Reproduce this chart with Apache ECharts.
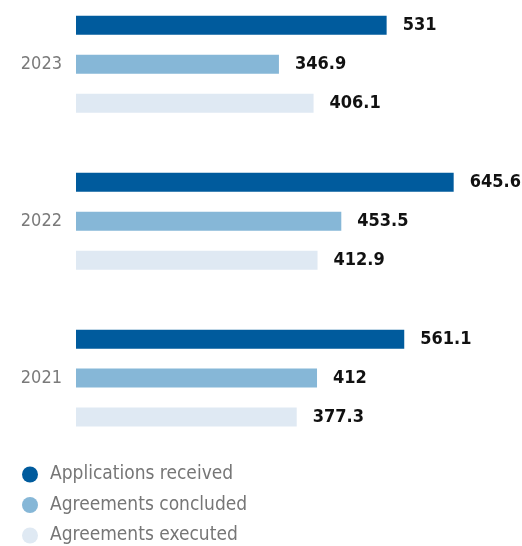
<!DOCTYPE html>
<html><head><meta charset="utf-8">
<script src="https://cdn.jsdelivr.net/npm/echarts@6/dist/echarts.min.js"></script>
<style>html,body{margin:0;padding:0;background:#fff}#c{width:522px;height:546px}</style>
</head><body><div id="c"></div>
<script>
var years = ['2023', '2022', '2021'];
var seriesNames = ['Applications received', 'Agreements concluded', 'Agreements executed'];
var applicationsReceived = [531, 645.6, 561.1];
var agreementsConcluded = [346.9, 453.5, 412];
var agreementsExecuted = [406.1, 412.9, 377.3];
var colors = ['#005b9d', '#86b7d7', '#dfe9f3'];
var FONT = '"DejaVu Sans Condensed", "Liberation Sans Narrow", sans-serif';

var chart = echarts.init(document.getElementById('c'));
function mk(name, data, color) {
  return {
    name: name, type: 'bar', data: data, barWidth: 19, barGap: '105%',
    itemStyle: { color: color },
    label: { show: true, position: 'right', distance: 16, color: '#111',
      fontFamily: FONT, fontWeight: 'bold', fontSize: 18 },
    animation: false
  };
}
chart.setOption({
  animation: false,
  grid: { left: 76, top: -14.15, width: 409.5, height: 470.7, containLabel: false, outerBoundsMode: 'none' },
  xAxis: { type: 'value', min: 0, max: 700, show: false },
  yAxis: { type: 'category', data: years, inverse: true,
    axisLine: { show: false }, axisTick: { show: false },
    axisLabel: { margin: 14, color: '#7a7a7a', fontFamily: FONT, fontSize: 18 } },
  legend: {
    orient: 'vertical', left: 17, top: 460, height: 120, icon: 'circle', itemWidth: 16, itemHeight: 16,
    itemGap: 11.5, data: seriesNames,
    textStyle: { color: '#767676', fontFamily: FONT, fontSize: 19, lineHeight: 17, padding: [0, 0, 0, 7] },
    selectedMode: false
  },
  series: [
    mk(seriesNames[0], applicationsReceived, colors[0]),
    mk(seriesNames[1], agreementsConcluded, colors[1]),
    mk(seriesNames[2], agreementsExecuted, colors[2])
  ]
});
</script></body></html>
